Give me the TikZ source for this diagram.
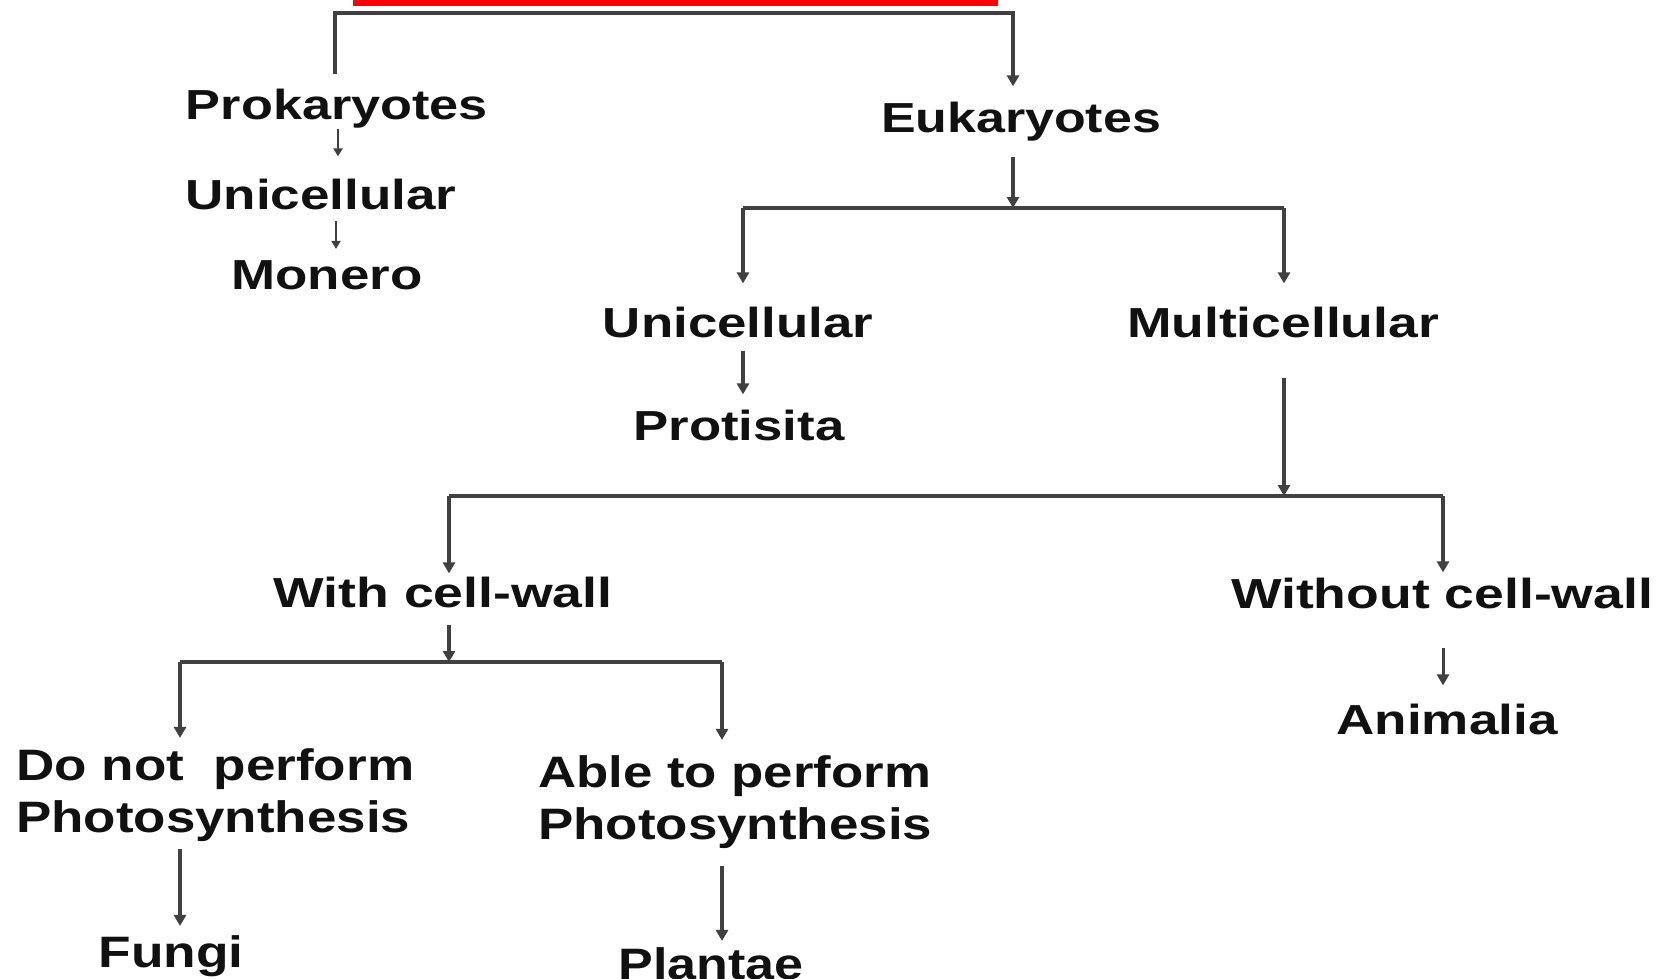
\documentclass[tikz,border=0pt]{standalone}
\usepackage{fontspec}
\setmainfont{Liberation Sans}
\usepackage{graphicx}
\usetikzlibrary{arrows.meta}
\newcommand{\fitw}[2]{\resizebox{#1}{\height}{#2}}
\definecolor{lc}{HTML}{404040}
\definecolor{tc}{HTML}{111111}
\begin{document}
\begin{tikzpicture}[x=1pt,y=-1pt,
  lbl/.style={inner sep=0pt, anchor=base, text=tc, font=\bfseries\fontsize{42}{48}\selectfont},
  lbl2/.style={inner sep=0pt, anchor=base, text=tc, font=\bfseries\fontsize{44}{52}\selectfont},
  ln/.style={draw=lc, line width=3.5pt},
  arr/.style={ln, -{Triangle[width=12pt,length=11pt]}},
  tarr/.style={draw=lc, line width=2pt, -{Triangle[width=9pt,length=8pt]}}]
\useasboundingbox (0,0) rectangle (1664,978);
\clip (0,0) rectangle (1664,978);
\fill[white] (0,0) rectangle (1664,978);

% red title underline
\coordinate (r1) at (353,3);
\coordinate (r2) at (998,3);
\draw[red, line width=6pt] (r1) -- (r2);

% text nodes
\node[lbl] (prok)  at (337,119) {\fitw{302pt}{Prokaryotes}};
\node[lbl] (uni1)  at (321,209) {\fitw{271pt}{Unicellular}};
\node[lbl] (mon)   at (327,289) {\fitw{191pt}{Monero}};
\node[lbl] (euk)   at (1021,132) {\fitw{280pt}{Eukaryotes}};
\node[lbl] (uni2)  at (738,337) {\fitw{270pt}{Unicellular}};
\node[lbl] (multi) at (1283,337) {\fitw{312pt}{Multicellular}};
\node[lbl] (prot)  at (739,440) {\fitw{211pt}{Protisita}};
\node[lbl] (wcw)   at (443,607) {\fitw{339pt}{With cell-wall}};
\node[lbl] (wocw)  at (1442,608) {\fitw{422pt}{Without cell-wall}};
\node[lbl2, anchor=base west, align=left] (dnp) at (16,832)
  {\fitw{398pt}{Do not\ \ perform}\\\fitw{394pt}{Photosynthesis}};
\node[lbl2, anchor=base west, align=left] (atp) at (538,839)
  {\fitw{393pt}{Able to perform}\\\fitw{394pt}{Photosynthesis}};
\node[lbl2] (fungi) at (171,967) {\fitw{145pt}{Fungi}};
\node[lbl2] (plan)  at (711,979) {\fitw{185pt}{Plantae}};
\node[lbl]  (ani)   at (1447,734) {\fitw{221pt}{Animalia}};

% junction coordinates
\coordinate (b1l) at (335,74);
\coordinate (b1r) at (1013,13);
\coordinate (j2)  at (1013,208);
\coordinate (j2l) at (743,208);
\coordinate (j2r) at (1284,208);
\coordinate (j3)  at (1284,496);
\coordinate (j3l) at (449,496);
\coordinate (j3r) at (1443,496);
\coordinate (j4)  at (449,662);
\coordinate (j4l) at (180,662);
\coordinate (j4r) at (722,662);
\coordinate (xp1) at (338,0);
\coordinate (xp2) at (336,0);
\coordinate (xan) at (1443,0);

% top bracket
\draw[arr, shorten >=15pt] (b1l) |- (b1r) -- (euk.north -| b1r);
% prokaryotes chain
\draw[tarr, shorten <=1pt, shorten >=22pt] (prok.south -| xp1) -- (uni1.north -| xp1);
\draw[tarr, shorten <=11pt, shorten >=11pt] (uni1.south -| xp2) -- (mon.north -| xp2);
% eukaryotes split
\draw[arr, shorten <=16pt] (euk.south -| j2) -- (j2);
\draw[ln] (j2l) -- (j2r);
\draw[arr, shorten >=23pt] (j2l) -- (uni2.north -| j2l);
\draw[arr, shorten >=23pt] (j2r) -- (multi.north -| j2r);
\draw[arr, shorten <=13pt, shorten >=15pt] (uni2.south -| j2l) -- (prot.north -| j2l);
% multicellular split
\draw[arr, shorten <=40pt] (multi.south -| j3) -- (j3);
\draw[ln] (j3l) -- (j3r);
\draw[arr, shorten >=3pt] (j3l) -- (wcw.north -| j3l);
\draw[arr, shorten >=5pt] (j3r) -- (wocw.north -| j3r);
\draw[arr, line width=3pt, shorten <=39pt, shorten >=18pt] (wocw.south -| xan) -- (ani.north -| xan);
% cell-wall split
\draw[arr, shorten <=17pt] (wcw.south -| j4) -- (j4);
\draw[ln] (j4l) -- (j4r);
\draw[arr, shorten >=10pt] (j4l) -- (dnp.north -| j4l);
\draw[arr, shorten >=15pt] (j4r) -- (atp.north -| j4r);
\draw[arr, shorten <=8pt, shorten >=9pt] (dnp.south -| j4l) -- (fungi.north -| j4l);
\draw[arr, shorten <=18pt, shorten >=6pt] (atp.south -| j4r) -- (plan.north -| j4r);
\end{tikzpicture}
\end{document}
